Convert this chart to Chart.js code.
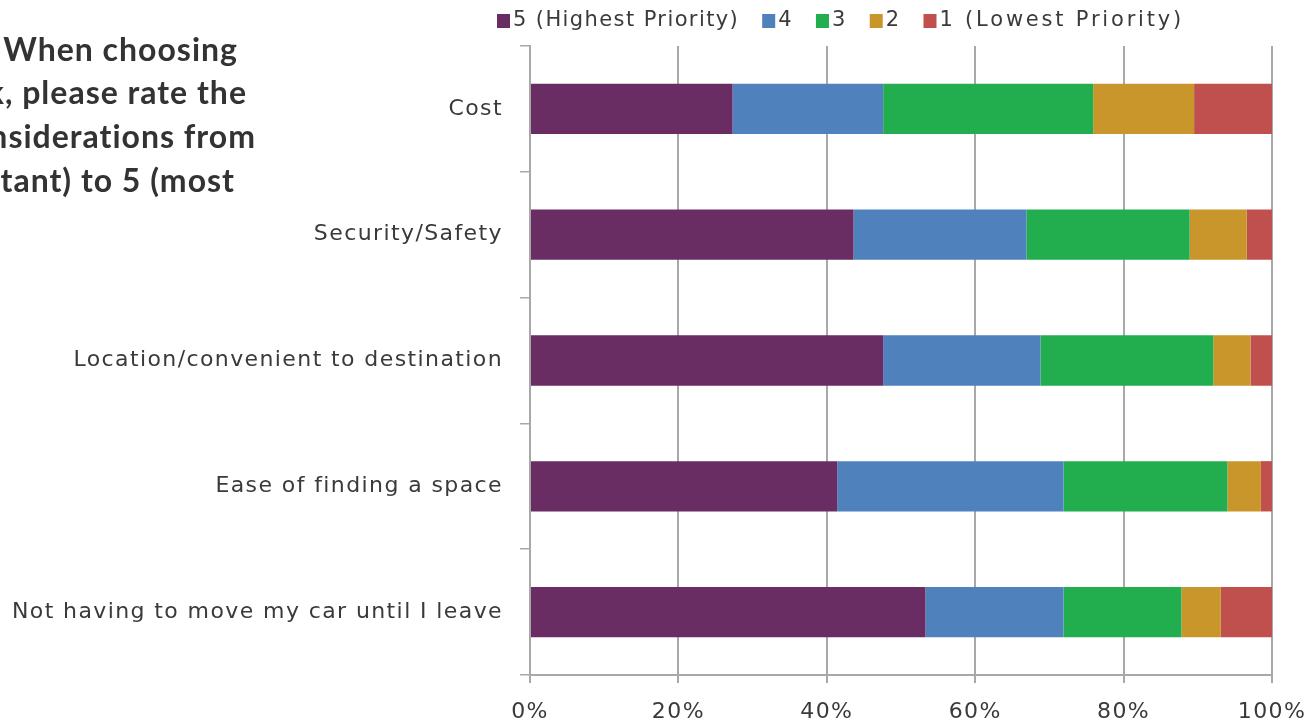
<!DOCTYPE html>
<html>
<head>
<meta charset="utf-8">
<script src="https://cdn.jsdelivr.net/npm/chart.js@4.4.1/dist/chart.umd.min.js"></script>
<style>
  html, body { margin: 0; padding: 0; background: #fff; }
  #wrap { width: 1312px; height: 726px; position: relative; }
</style>
</head>
<body>
<div id="wrap"><canvas id="results"></canvas></div>
<script>
// survey categories and share of answers per priority level (%)
var categories = [
  "Cost",
  "Security/Safety",
  "Location/convenient to destination",
  "Ease of finding a space",
  "Not having to move my car until I leave"
];
var priority5 = [27.3, 43.6, 47.6, 41.4, 53.3];
var priority4 = [20.3, 23.3, 21.2, 30.5, 18.6];
var priority3 = [28.3, 22.0, 23.3, 22.1, 15.9];
var priority2 = [13.6, 7.7, 5.0, 4.5, 5.3];
var priority1 = [10.5, 3.4, 2.9, 1.5, 6.9];
var seriesNames = ["5 (Highest Priority)", "4", "3", "2", "1 (Lowest Priority)"];
var xTicks = ["0%", "20%", "40%", "60%", "80%", "100%"];

var titleLines = [
  "When choosing",
  "where to park, please rate the",
  "following considerations from",
  "1 (least important) to 5 (most"
];

var colors = ["#6a2d63", "#4f81bd", "#22ad4e", "#c9962c", "#c0504d"];
var textColor = "#3a3a3a";
var gridColor = "#a8a8a8";
var labelFont = { family: "DejaVu Sans", size: 22 };

// spread the letters a bit, the labels are set in a wide face
var spacing = {
  id: "spacing",
  beforeLayout: function (chart) { chart.ctx.letterSpacing = "1.4px"; },
  beforeDraw: function (chart) { chart.ctx.letterSpacing = "1.4px"; }
};

// question text at the top left, running off the edge
var question = {
  id: "question",
  afterDraw: function (chart) {
    var c = chart.ctx;
    var rights = [238, 247, 256, 235];
    var bases = [61, 104, 148, 192];
    c.save();
    c.letterSpacing = "1px";
    c.font = "bold 32px Lato";
    c.fillStyle = "#333";
    c.textAlign = "right";
    c.textBaseline = "alphabetic";
    titleLines.forEach(function (t, i) { c.fillText(t, rights[i], bases[i]); });
    c.restore();
  }
};

// legend row above the plot
var legendRow = {
  id: "legendRow",
  afterDraw: function (chart) {
    var c = chart.ctx;
    c.save();
    c.font = "21px DejaVu Sans";
    c.textBaseline = "middle";
    c.textAlign = "left";
    var x = 497, y = 21;
    chart.data.datasets.forEach(function (ds, i) {
      // the last entry sits a little looser
      c.letterSpacing = i === 4 ? "2.8px" : "1.4px";
      c.fillStyle = ds.backgroundColor;
      c.fillRect(x, y - 7, 13, 14);
      x += 16;
      c.fillStyle = textColor;
      c.fillText(ds.label, x, y);
      x += c.measureText(ds.label).width + 23;
    });
    c.restore();
  }
};

var series = [priority5, priority4, priority3, priority2, priority1];

new Chart(document.getElementById("results").getContext("2d"), {
  type: "bar",
  data: {
    labels: categories,
    datasets: series.map(function (vals, i) {
      return {
        label: seriesNames[i],
        data: vals,
        backgroundColor: colors[i],
        borderWidth: 0,
        barPercentage: 0.4,
        categoryPercentage: 1.0
      };
    })
  },
  options: {
    indexAxis: "y",
    responsive: true,
    maintainAspectRatio: false,
    animation: false,
    layout: { padding: { top: 46, right: 40, left: 0, bottom: 0 } },
    plugins: {
      legend: { display: false },
      tooltip: { enabled: false }
    },
    scales: {
      x: {
        stacked: true,
        min: 0,
        max: 100,
        afterFit: function (s) { s.height = 51; s.paddingRight = 0; },
        afterBuildTicks: function (s) {
          s.ticks = [0, 20, 40, 60, 80, 100].map(function (v) { return { value: v }; });
        },
        ticks: {
          color: textColor,
          font: labelFont,
          padding: 16,
          maxRotation: 0,
          callback: function (v) { return xTicks[v / 20]; }
        },
        grid: { color: gridColor, lineWidth: 2, tickLength: 8 },
        border: { color: gridColor, width: 2 }
      },
      y: {
        stacked: true,
        afterFit: function (s) { s.width = 530; },
        ticks: { color: textColor, font: labelFont, padding: 17 },
        grid: { drawOnChartArea: false, color: gridColor, lineWidth: 1.5, tickLength: 10 },
        border: { color: gridColor, width: 2 }
      }
    }
  },
  plugins: [spacing, question, legendRow]
});
</script>
</body>
</html>
